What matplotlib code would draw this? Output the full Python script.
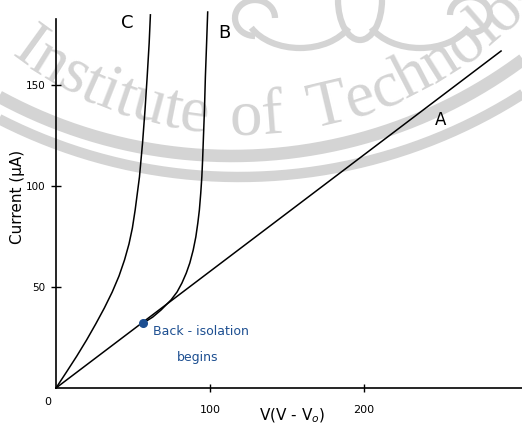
import numpy as np
import matplotlib
matplotlib.use("Agg")
import matplotlib.pyplot as plt
from matplotlib.font_manager import FontProperties
from matplotlib.textpath import TextToPath
from matplotlib.patches import Arc

# line A: ohmic, straight through the origin
a_v = [0, 289.0]
a_i = [0, 166.8]

# curve B: leaves line A where back-isolation begins
b_v = [56.3, 62.8, 68.2, 74.7, 78.6, 81.8, 84.6, 86.9, 89.1, 90.8, 92.1, 93.1,
       94.0, 94.7, 95.2, 95.6, 96.4, 97.0, 97.8, 98.5]
b_i = [32.0, 35.1, 38.6, 43.6, 47.5, 52.0, 56.9, 61.9, 68.3, 74.8, 81.7, 88.1,
       96.5, 104.5, 112.9, 121.3, 137.6, 154.0, 170.8, 186.1]

# curve C
c_v = [0, 6.8, 13.5, 19.9, 25.8, 31.4, 36.5, 40.9, 44.5, 47.4, 49.6, 51.4,
       54.2, 56.2, 57.8, 59.2, 60.5, 61.3]
c_i = [0, 7.9, 15.8, 23.8, 31.7, 39.6, 47.5, 55.4, 63.4, 71.3, 79.2, 88.1,
       104.5, 121.3, 137.6, 154.0, 170.8, 184.7]

onset_v, onset_i = 56.3, 32.0

x_ticks = [100, 200]
x_tick_labels = ["100", "200"]
y_ticks = [50, 100, 150]
y_tick_labels = ["50", "100", "150"]

W, H = 522, 425
fig = plt.figure(figsize=(W / 100, H / 100), dpi=100)

# --- background watermark, laid out in pixel coordinates ---
wm = fig.add_axes([0, 0, 1, 1], zorder=0)
wm.set_xlim(0, W); wm.set_ylim(H, 0); wm.axis("off")
grey = "#d4d4d4"

th = np.linspace(-np.pi / 2, np.pi / 2, 400)
for (bx, by, r), lw in [((232, -331, 487), 9), ((239, -349, 526), 7.5)]:
    wm.plot(bx + r * np.sin(th), by + r * np.cos(th), color=grey, lw=lw, solid_capstyle="butt")

# emblem swirls along the top edge
for (ex, ey, ew, eh, t1, t2) in [(255, 18, 40, 36, 90, 360), (300, 10, 110, 76, 20, 160),
                                  (360, 0, 44, 80, 0, 180), (420, 10, 110, 76, 20, 160),
                                  (470, 15, 40, 36, 180, 450)]:
    wm.add_patch(Arc((ex, ey), ew, eh, theta1=t1, theta2=t2, color=grey, lw=4.5))

cx, cy, R = 244, -250, 384
fp = FontProperties(family="Liberation Serif", size=47)
t2p = TextToPath()
for word, start in [("Institute", -37.5), ("of", -2.1), ("Technology", 10.3)]:
    s = np.radians(start) * R
    for ch in word:
        w = t2p.get_text_width_height_descent(ch, fp, ismath=False)[0] * 100 / 72
        phi = (s + w / 2) / R
        px = cx + R * np.sin(phi)
        if px < W + 20:
            wm.text(px, cy + R * np.cos(phi), ch, fontproperties=fp,
                    color=grey, ha="center", va="baseline", rotation=np.degrees(phi),
                    rotation_mode="anchor")
        s += w

# --- the chart ---
ax = fig.add_axes([56 / W, 37 / H, 466 / W, 378 / H], zorder=1)
ax.patch.set_alpha(0)
ax.set_xlim(0, 302.6)
ax.set_ylim(0, 187.1)
for side in ("top", "right"):
    ax.spines[side].set_visible(False)
ax.spines["left"].set_bounds(0, 182.7)
for side in ("left", "bottom"):
    ax.spines[side].set_linewidth(1.2)

ax.plot(a_v, a_i, color="black", lw=1.1, clip_on=False)
ax.plot(b_v, b_i, color="black", lw=1.1, clip_on=False)
ax.plot(c_v, c_i, color="black", lw=1.1, clip_on=False)
ax.plot([onset_v], [onset_i], "o", color="#1d4f91", ms=5.5, zorder=5)

ax.text(63, 28.2, "Back - isolation", color="#1d4f91", fontsize=9, ha="left", va="center")
ax.text(92.2, 15.3, "begins", color="#1d4f91", fontsize=9, ha="center", va="center")

ax.text(250, 132.7, "A", fontsize=12, ha="center", va="center")
ax.text(109.1, 175.7, "B", fontsize=13, ha="center", va="center")
ax.text(46.1, 180.7, "C", fontsize=13, ha="center", va="center")

ax.set_xticks(x_ticks, x_tick_labels, fontsize=8)
ax.set_yticks(y_ticks, y_tick_labels, fontsize=7.5)
ax.tick_params(axis="x", direction="inout", length=6, width=1, pad=9)
ax.tick_params(axis="y", direction="inout", length=7, width=1, pad=4)
ax.text(-5.2, -7, "0", fontsize=8, ha="center", va="center", clip_on=False)

ax.set_xlabel("V(V - V$_o$)", fontsize=11)
ax.xaxis.set_label_coords(0.506, -0.05)
ax.set_ylabel("Current (μA)", fontsize=11)
ax.yaxis.set_label_coords(-0.066, 0.505)

fig.savefig("out.png", dpi=100)
